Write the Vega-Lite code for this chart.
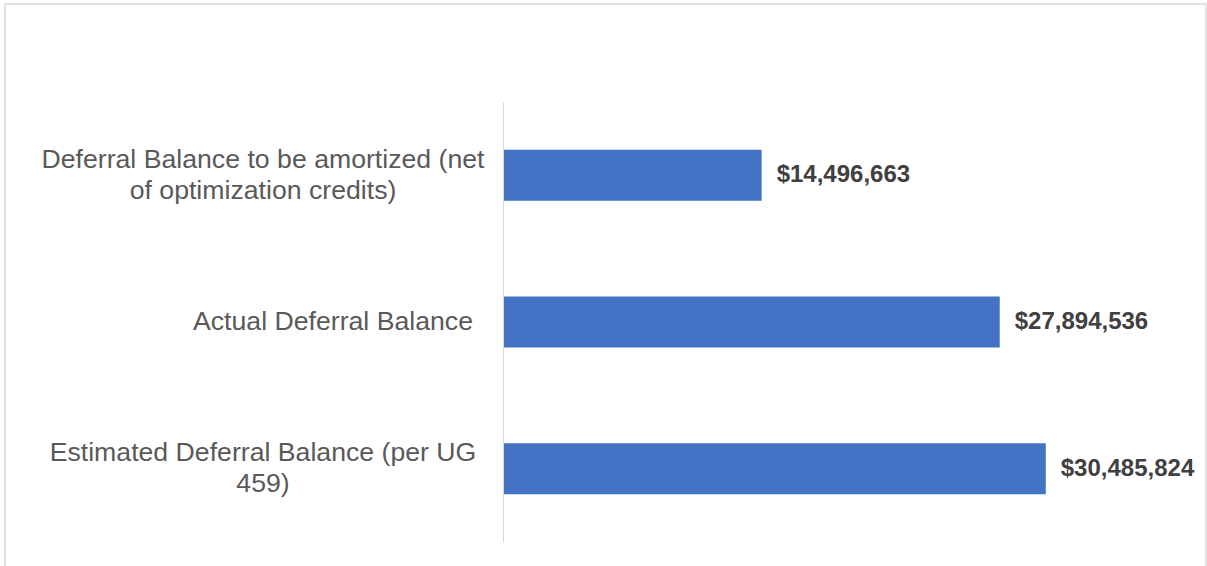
{
  "$schema": "https://vega.github.io/schema/vega-lite/v6.json",
  "autosize": "none",
  "width": 1201,
  "height": 570,
  "padding": {"left": 5, "top": 4, "right": 1, "bottom": 0},
  "background": "white",
  "config": {
    "view": {"stroke": "#d9d9d9", "strokeWidth": 1.5},
    "font": "Liberation Sans"
  },
  "data": {
    "values": [
      {"category": "Deferral Balance to be amortized (net of optimization credits)", "value": 14496663},
      {"category": "Actual Deferral Balance", "value": 27894536},
      {"category": "Estimated Deferral Balance (per UG 459)", "value": 30485824}
    ]
  },
  "resolve": {"axis": {"y": "independent"}},
  "layer": [
    {
      "mark": {"type": "bar", "color": "#4472C4"},
      "encoding": {
        "y": {
          "field": "category",
          "type": "nominal",
          "sort": null,
          "scale": {"range": [98, 538], "paddingInner": 0.652, "paddingOuter": 0.326},
          "axis": {
            "orient": "left",
            "title": null,
            "offset": -498,
            "ticks": false,
            "tickSize": 0,
            "domain": true,
            "domainColor": "#d9d9d9",
            "domainWidth": 1,
            "labelAlign": "center",
            "labelBaseline": "middle",
            "labelPadding": 240.5,
            "labelOffset": -15.25,
            "labelFont": "Liberation Sans",
            "labelFontSize": 26.67,
            "labelLineHeight": 30.5,
            "labelColor": "#595959",
            "labelLimit": 0,
            "labelExpr": "datum.value == 'Deferral Balance to be amortized (net of optimization credits)' ? ['Deferral Balance to be amortized (net', 'of optimization credits)'] : datum.value == 'Estimated Deferral Balance (per UG 459)' ? ['Estimated Deferral Balance (per UG', '459)'] : ''"
          }
        },
        "x": {
          "field": "value",
          "type": "quantitative",
          "scale": {"domain": [0, 35000000], "range": [499, 1121]},
          "axis": null
        }
      }
    },
    {
      "mark": {"type": "text", "align": "left", "baseline": "middle", "dx": 15, "font": "Liberation Sans", "fontSize": 24, "fontWeight": "bold", "color": "#404040"},
      "encoding": {
        "y": {
          "field": "category",
          "type": "nominal",
          "sort": null,
          "axis": {
            "orient": "left",
            "title": null,
            "offset": -498,
            "ticks": false,
            "tickSize": 0,
            "domain": false,
            "labelAlign": "center",
            "labelBaseline": "middle",
            "labelPadding": 170.5,
            "labelFont": "Liberation Sans",
            "labelFontSize": 26.67,
            "labelLineHeight": 30.5,
            "labelColor": "#595959",
            "labelLimit": 0,
            "labelExpr": "datum.value == 'Actual Deferral Balance' ? 'Actual Deferral Balance' : ''"
          }
        },
        "x": {"field": "value", "type": "quantitative", "axis": null},
        "text": {"field": "value", "type": "quantitative", "format": "$,.0f"}
      }
    }
  ]
}
